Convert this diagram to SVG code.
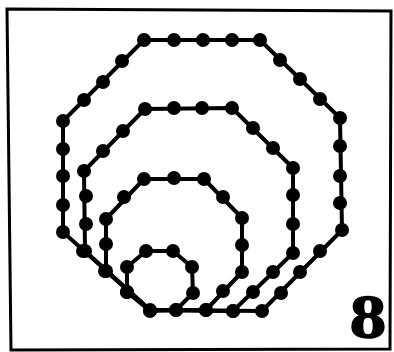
<svg xmlns="http://www.w3.org/2000/svg" width="394" height="352" viewBox="0 0 394 352">
<style>
.ring{fill:none;stroke:#000;stroke-width:4;stroke-linejoin:round}
.d{fill:#000}
.frame{fill:none;stroke:#000;stroke-width:3}
.lbl{font-family:"DejaVu Serif",serif;font-weight:bold;font-size:54px;fill:#000;stroke:#000;stroke-width:1.5}
</style>
<rect width="394" height="352" fill="#fff"/>
<path class="frame" d="M7,9 L391,11 L390,349 L11,350 Z"/>
<g id="connectors">
<polygon id="ring1-path" class="ring" points="144,40 260,40 340,118 342,230 262,311 150,310 63,232 63,121"/>
<polygon id="ring2-path" class="ring" points="145,109 232,108 293,168 293,253 233,311 150,310 85,251 84,171"/>
<polygon id="ring3-path" class="ring" points="144,179 204,179 242,218 242,272 206,310 150,310 106,271 106,219"/>
<polygon id="ring4-path" class="ring" points="146,251 173,251 192,267 193,293 176,310 150,311 127,292 127,267"/>
</g>
<g id="ring1" class="d">
<circle cx="144" cy="40" r="7"/><circle cx="174" cy="40" r="7"/><circle cx="203" cy="40" r="7"/><circle cx="232" cy="40" r="7"/>
<circle cx="260" cy="40" r="7"/><circle cx="280" cy="60" r="7"/><circle cx="300" cy="79" r="7"/><circle cx="320" cy="99" r="7"/>
<circle cx="340" cy="118" r="7"/><circle cx="340" cy="146" r="7"/><circle cx="340" cy="176" r="7"/><circle cx="340" cy="203" r="7"/>
<circle cx="342" cy="230" r="7"/><circle cx="320" cy="251" r="7"/><circle cx="300" cy="272" r="7"/><circle cx="281" cy="293" r="7"/>
<circle cx="262" cy="311" r="7"/><circle cx="233" cy="311" r="7"/><circle cx="206" cy="310" r="7"/><circle cx="176" cy="310" r="7"/>
<circle cx="150" cy="310" r="7"/><circle cx="127" cy="292" r="7"/><circle cx="105" cy="271" r="7"/><circle cx="83" cy="251" r="7"/>
<circle cx="63" cy="232" r="7"/><circle cx="63" cy="205" r="7"/><circle cx="63" cy="176" r="7"/><circle cx="63" cy="149" r="7"/>
<circle cx="63" cy="121" r="7"/><circle cx="84" cy="100" r="7"/><circle cx="103" cy="82" r="7"/><circle cx="122" cy="61" r="7"/>
</g>
<g id="ring2" class="d">
<circle cx="145" cy="109" r="7"/><circle cx="174" cy="108" r="7"/><circle cx="202" cy="108" r="7"/><circle cx="232" cy="108" r="7"/>
<circle cx="253" cy="128" r="7"/><circle cx="273" cy="148" r="7"/><circle cx="293" cy="168" r="7"/><circle cx="293" cy="195" r="7"/>
<circle cx="293" cy="224" r="7"/><circle cx="293" cy="253" r="7"/><circle cx="273" cy="272" r="7"/><circle cx="253" cy="292" r="7"/>
<circle cx="233" cy="311" r="7"/><circle cx="85" cy="251" r="7"/><circle cx="86" cy="224" r="7"/><circle cx="86" cy="196" r="7"/>
<circle cx="84" cy="171" r="7"/><circle cx="103" cy="151" r="7"/><circle cx="123" cy="131" r="7"/>
</g>
<g id="ring3" class="d">
<circle cx="144" cy="179" r="7"/><circle cx="174" cy="178" r="7"/><circle cx="204" cy="179" r="7"/><circle cx="223" cy="197" r="7"/>
<circle cx="242" cy="218" r="7"/><circle cx="242" cy="245" r="7"/><circle cx="242" cy="272" r="7"/><circle cx="223" cy="291" r="7"/>
<circle cx="206" cy="310" r="7"/><circle cx="106" cy="271" r="7"/><circle cx="106" cy="244" r="7"/><circle cx="106" cy="219" r="7"/>
<circle cx="124" cy="197" r="7"/>
</g>
<g id="ring4" class="d">
<circle cx="146" cy="251" r="7"/><circle cx="173" cy="251" r="7"/><circle cx="192" cy="267" r="7"/><circle cx="193" cy="293" r="7"/>
<circle cx="176" cy="310" r="7"/><circle cx="150" cy="311" r="7"/><circle cx="127" cy="292" r="7"/><circle cx="127" cy="267" r="7"/>
</g>
<g id="label">
<text class="lbl" x="368" y="337" text-anchor="middle">8</text>
</g>
</svg>
